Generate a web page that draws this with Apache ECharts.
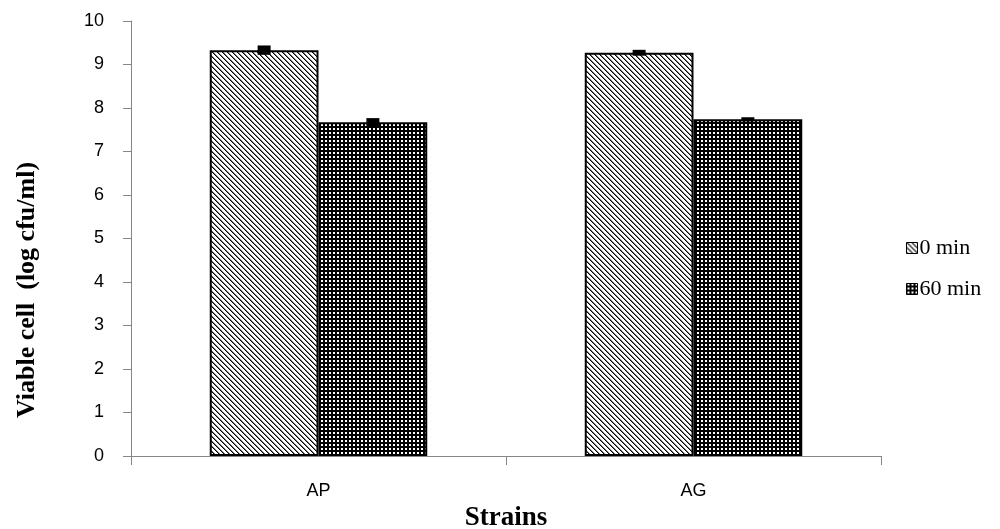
<!DOCTYPE html>
<html>
<head>
<meta charset="utf-8">
<script src="https://cdn.jsdelivr.net/npm/echarts@6/dist/echarts.min.js"></script>
<style>
html,body{margin:0;padding:0;background:#fff;}
#chart{width:1000px;height:529px;}
</style>
</head>
<body>
<div id="chart"></div>
<script>
// ---- data ----
const categories = ['AP', 'AG'];
const seriesNames = ['0 min', '60 min'];
const values0 = [9.33, 9.27];
const values60 = [7.67, 7.74];
const errors0 = [0.08, 0.04];
const errors60 = [0.07, 0.02];
const yTicks = [0, 1, 2, 3, 4, 5, 6, 7, 8, 9, 10];

// ---- patterns ----
function makeDiag() {
  const c = document.createElement('canvas');
  c.width = 5; c.height = 5;
  const ctx = c.getContext('2d');
  ctx.fillStyle = '#fff'; ctx.fillRect(0, 0, 5, 5);
  for (let i = 0; i < 5; i++) {
    ctx.fillStyle = '#000'; ctx.fillRect(i, i, 1, 1);
    ctx.fillStyle = '#777'; ctx.fillRect((i + 1) % 5, i, 1, 1);
  }
  return c;
}
function makeGrid() {
  const c = document.createElement('canvas');
  c.width = 4; c.height = 4;
  const ctx = c.getContext('2d');
  ctx.fillStyle = '#000'; ctx.fillRect(0, 0, 4, 4);
  ctx.fillStyle = '#fff'; ctx.fillRect(1, 0, 2, 2);
  return c;
}
const pat0 = { image: makeDiag(), repeat: 'repeat' };
const pat60 = { image: makeGrid(), repeat: 'repeat' };

const chart = echarts.init(document.getElementById('chart'), null, { renderer: 'canvas' });

function errSeries(vals, errs, side) {
  return {
    type: 'custom',
    z: 10,
    silent: true,
    data: vals.map((v, i) => [i, v, errs[i]]),
    encode: { x: 0, y: 1 },
    renderItem: function (params, api) {
      const idx = api.value(0), v = api.value(1), e = api.value(2);
      const band = api.size([1, 0])[0];
      const bw = band * (1 - 0.42) / 2;
      const cx = api.coord([idx, v])[0] + side * bw / 2;
      const yTop = api.coord([idx, v + e])[1] - 1.2;
      const yBot = api.coord([idx, v - e])[1] + 1.2;
      const hw = 6.5;
      return {
        type: 'rect',
        shape: { x: cx - hw, y: yTop, width: hw * 2, height: Math.max(3, yBot - yTop) },
        style: { fill: '#000' }
      };
    }
  };
}

const axisFont = '"Liberation Sans", Arial, sans-serif';
const serifFont = '"Liberation Serif", "Times New Roman", serif';

chart.setOption({
  animation: false,
  backgroundColor: '#fff',
  grid: { left: 131, right: 119, top: 21, bottom: 73, containLabel: false, outerBoundsMode: 'none' },
  legend: {
    data: seriesNames,
    orient: 'vertical',
    left: 901,
    top: 232,
    icon: 'rect',
    itemWidth: 11,
    itemHeight: 11,
    itemGap: 19,
    itemStyle: { borderColor: '#000', borderWidth: 1 },
    textStyle: { fontFamily: serifFont, fontSize: 22, color: '#000', lineHeight: 22, padding: [0, 0, 0, -3] }
  },
  xAxis: {
    type: 'category',
    data: categories,
    name: 'Strains',
    nameLocation: 'middle',
    nameGap: 46,
    nameTextStyle: { fontFamily: serifFont, fontSize: 27, fontWeight: 'bold', color: '#000' },
    axisLine: { lineStyle: { color: '#868686', width: 1 } },
    axisTick: { show: true, length: 9, lineStyle: { color: '#868686' } },
    axisLabel: { fontFamily: axisFont, fontSize: 18, color: '#000', margin: 26 }
  },
  yAxis: {
    type: 'value',
    min: yTicks[0],
    max: yTicks[yTicks.length - 1],
    interval: 1,
    axisLine: { show: true, lineStyle: { color: '#868686', width: 1 } },
    axisTick: { show: true, length: 8, lineStyle: { color: '#868686' } },
    splitLine: { show: false },
    axisLabel: { fontFamily: axisFont, fontSize: 18, color: '#000', margin: 27 }
  },
  graphic: [{
    type: 'text',
    x: 27,
    y: 290,
    rotation: Math.PI / 2,
    style: {
      text: 'Viable cell  (log cfu/ml)',
      font: 'bold 26px "Liberation Serif", "Times New Roman", serif',
      fill: '#000',
      align: 'center',
      verticalAlign: 'middle'
    }
  }],
  series: [
    {
      name: seriesNames[0],
      type: 'bar',
      data: values0,
      barGap: '0%',
      barCategoryGap: '42%',
      itemStyle: { color: pat0, borderColor: '#000', borderWidth: 2 }
    },
    {
      name: seriesNames[1],
      type: 'bar',
      data: values60,
      barGap: '0%',
      barCategoryGap: '42%',
      itemStyle: { color: pat60, borderColor: '#000', borderWidth: 2 }
    },
    errSeries(values0, errors0, -1),
    errSeries(values60, errors60, 1)
  ]
});
</script>
</body>
</html>
